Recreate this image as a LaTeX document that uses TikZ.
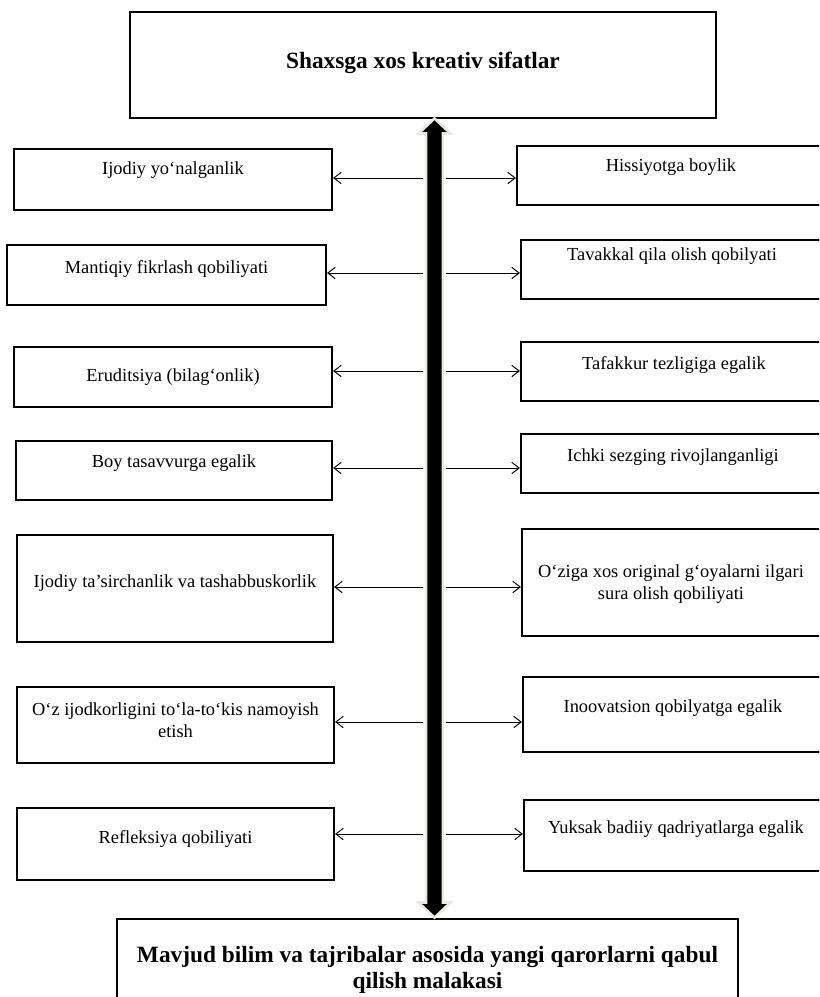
\documentclass[tikz,border=0pt]{standalone}
\usepackage{fontspec}
\setmainfont{Liberation Serif}
\usetikzlibrary{arrows.meta}
\definecolor{beige}{RGB}{236,233,218}
\newcommand\mybox[5]{\node[box,minimum width={(#4-#2)*0.75pt},minimum height={(#5-#3)*0.75pt}] (#1) at ({(#2+#4)/2},{(#3+#5)/2}) {};}
\newcommand\conL[3]{\coordinate (#1) at (423,#3); \draw[conn] (#1) -- (#1 -| #2.east);}
\newcommand\conR[3]{\coordinate (#1) at (446,#3); \draw[conn] (#1) -- (#1 -| #2.west);}
\begin{document}
\begin{tikzpicture}[x=0.75pt,y=-0.75pt,
  box/.style={draw,line width=1.6pt,rectangle,inner sep=0pt},
  lbl/.style={font=\fontsize{13.8pt}{16.5pt}\selectfont,align=center,inner sep=0pt},
  ttl/.style={font=\fontsize{17.5pt}{19.5pt}\selectfont\bfseries,align=center,inner sep=0pt},
  conn/.style={line width=0.75pt,-{Straight Barb[length=5.5pt,width=8.5pt]}}]
\useasboundingbox (0,0) rectangle (819,997);
\clip (0,0) rectangle (819,997);
\fill[white] (0,0) rectangle (819,997);

% top and bottom boxes
\mybox{top}{130}{12}{716}{118}
\node[ttl] (toptxt) at (423,63) {Shaxsga xos kreativ sifatlar};
\mybox{bot}{117}{919}{738}{1012}
\node[ttl] (bottxt) at (427.5,970) {Mavjud bilim va tajribalar asosida yangi qarorlarni qabul\\qilish malakasi};

% left boxes
\mybox{l1}{14}{149}{332}{210}
\node[lbl] (l1t) at (173,170) {Ijodiy yo‘nalganlik};
\mybox{l2}{7}{245}{326}{305}
\node[lbl] (l2t) at (166.5,269) {Mantiqiy fikrlash qobiliyati};
\mybox{l3}{14}{347}{332}{407}
\node[lbl] (l3t) at (173,377) {Eruditsiya (bilag‘onlik)};
\mybox{l4}{16}{441}{332}{500}
\node[lbl] (l4t) at (174,463) {Boy tasavvurga egalik};
\mybox{l5}{17}{535}{333}{642}
\node[lbl] (l5t) at (175,583) {Ijodiy ta’sirchanlik va tashabbuskorlik};
\mybox{l6}{17}{687}{334}{763}
\node[lbl] (l6t) at (175.5,720) {O‘z ijodkorligini to‘la-to‘kis namoyish\\etish};
\mybox{l7}{17}{808}{334}{880}
\node[lbl] (l7t) at (175.5,839) {Refleksiya qobiliyati};

% right boxes
\mybox{r1}{517}{146}{828}{205}
\node[lbl] (r1t) at (671,167) {Hissiyotga boylik};
\mybox{r2}{521}{240}{828}{299}
\node[lbl] (r2t) at (672,256) {Tavakkal qila olish qobilyati};
\mybox{r3}{521}{342}{828}{401}
\node[lbl] (r3t) at (674,365) {Tafakkur tezligiga egalik};
\mybox{r4}{521}{434}{828}{493}
\node[lbl] (r4t) at (673,457) {Ichki sezging rivojlanganligi};
\mybox{r5}{522}{529}{828}{636}
\node[lbl] (r5t) at (671,584) {O‘ziga xos original g‘oyalarni ilgari\\sura olish qobiliyati};
\mybox{r6}{523}{677}{828}{752}
\node[lbl] (r6t) at (673,708) {Inoovatsion qobilyatga egalik};
\mybox{r7}{524}{800}{828}{871}
\node[lbl] (r7t) at (676,829) {Yuksak badiiy qadriyatlarga egalik};

% connectors
\conL{a1}{l1}{178}
\conR{b1}{r1}{178}
\conL{a2}{l2}{273}
\conR{b2}{r2}{273}
\conL{a3}{l3}{371}
\conR{b3}{r3}{371}
\conL{a4}{l4}{468}
\conR{b4}{r4}{468}
\conL{a5}{l5}{587}
\conR{b5}{r5}{587}
\conL{a6}{l6}{722}
\conR{b6}{r6}{722}
\conL{a7}{l7}{834}
\conR{b7}{r7}{834}

% central double arrow
\draw[fill=black,draw=beige,line width=1.9pt,line join=miter]
  (434.5,118.5) -- (450.5,133.5) -- (442.8,133.5) -- (442.8,902.5) -- (450.5,902.5)
  -- (434.5,917.5) -- (418.5,902.5) -- (426.2,902.5) -- (426.2,133.5) -- (418.5,133.5) -- cycle;
\end{tikzpicture}
\end{document}
